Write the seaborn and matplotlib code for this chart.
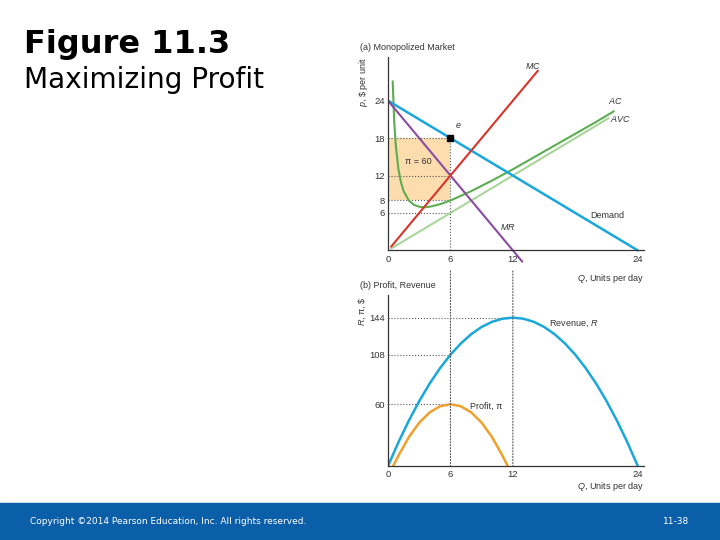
import matplotlib
matplotlib.use("Agg")
import matplotlib.pyplot as plt
from matplotlib.patches import Rectangle, ConnectionPatch
import seaborn as sns

# panel (a): cost and demand curves
demand_q = [0, 24]
demand_p = [24, 0]
mr_q = [0, 12.9]
mr_p = [24, -1.8]
mc_q = [0.3, 14.4]
mc_p = [0.6, 28.8]
avc_q = [0.3, 21.2]
avc_p = [0.3, 21.2]
ac_q = [0.45, 0.6, 0.75, 1, 1.25, 1.5, 2, 2.5, 3, 3.5, 4, 5, 6, 8, 10, 12,
        14, 16, 18, 20, 21.7]
ac_p = [27.1, 20.6, 16.8, 13.0, 10.9, 9.5, 8.0, 7.3, 7.0, 6.9, 7.0, 7.4, 8.0,
        9.5, 11.2, 13.0, 14.9, 16.8, 18.7, 20.6, 22.3]

# panel (b): revenue and profit
rev_q = list(range(0, 25))
rev_v = [0, 23, 44, 63, 80, 95, 108, 119, 128, 135, 140, 143, 144, 143, 140,
         135, 128, 119, 108, 95, 80, 63, 44, 23, 0]
profit_q = [0.5, 1, 2, 3, 4, 5, 6, 7, 8, 9, 10, 11, 11.5]
profit_v = [0, 10, 28, 42, 52, 58, 60, 58, 52, 42, 28, 10, 0]

top_xticks = [0, 6, 12, 24]
top_yticks = [6, 8, 12, 18, 24]
bot_yticks = [60, 108, 144]

sns.set_style("white")
plt.rcParams["font.family"] = ["Liberation Sans", "DejaVu Sans"]
plt.rcParams["mathtext.fontset"] = "custom"
plt.rcParams["mathtext.it"] = "Liberation Sans:italic"
plt.rcParams["mathtext.rm"] = "Liberation Sans"

blue = "#1aa7dc"
dot = dict(color="#555555", ls=":", lw=0.8)

fig = plt.figure(figsize=(7.2, 5.4), dpi=100)
ax1 = fig.add_axes([388 / 720, 1 - 266 / 540, 256 / 720, 209 / 540])
ax2 = fig.add_axes([388 / 720, 1 - 466 / 540, 256 / 720, 171 / 540])

# ---- panel (a)
ax1.add_patch(Rectangle((0, 8), 6, 10, color="#fddcae", lw=0, zorder=0))
for yv in [18, 12, 8, 6]:
    ax1.plot([0, 6], [yv, yv], **dot)
ax1.plot([6, 6], [0, 18], **dot)

sns.lineplot(x=avc_q, y=avc_p, ax=ax1, color="#a9d59b", lw=1.5)
sns.lineplot(x=ac_q, y=ac_p, ax=ax1, color="#5cad52", lw=1.5)
sns.lineplot(x=demand_q, y=demand_p, ax=ax1, color=blue, lw=1.8)
sns.lineplot(x=mr_q, y=mr_p, ax=ax1, color="#8a4ba0", lw=1.5)
sns.lineplot(x=mc_q, y=mc_p, ax=ax1, color="#d8352a", lw=1.5)
ax1.plot([6], [18], marker="s", color="black", ms=4, zorder=5)

lab = dict(fontsize=6.5, color="#333333")
ax1.text(6.4, 19.6, "$e$", **lab)
ax1.text(13.9, 29.6, "$MC$", ha="center", va="center", **lab)
ax1.text(21.9, 24.0, "$AC$", ha="center", va="center", **lab)
ax1.text(22.3, 21.1, "$AVC$", ha="center", va="center", **lab)
ax1.text(21.1, 5.6, "Demand", ha="center", va="center", **lab)
ax1.text(11.5, 3.7, "$MR$", ha="center", va="center", **lab)
ax1.text(2.9, 14.2, "π = 60", ha="center", va="center", **lab)

ax1.set_xlim(0, 24.6)
ax1.set_ylim(-2.5, 31)
ax1.spines["bottom"].set_position(("data", 0))
ax1.spines["left"].set_bounds(0, 31)

# ---- panel (b)
ax2.plot([0, 12], [144, 144], **dot)
ax2.plot([0, 6], [108, 108], **dot)
ax2.plot([0, 6], [60, 60], **dot)
sns.lineplot(x=rev_q, y=rev_v, ax=ax2, color=blue, lw=1.8)
sns.lineplot(x=profit_q, y=profit_v, ax=ax2, color="#f0a02c", lw=1.8)
ax2.text(17.8, 138, "Revenue, $R$", ha="center", va="center", **lab)
ax2.text(9.4, 58, "Profit, π", ha="center", va="center", **lab)
ax2.set_xlim(0, 24.6)
ax2.set_ylim(0, 166)

for ax, yt in [(ax1, top_yticks), (ax2, bot_yticks)]:
    ax.set_xticks(top_xticks)
    ax.set_yticks(yt)
    ax.tick_params(length=0, labelsize=6.8, labelcolor="#333333", pad=3)
    ax.tick_params(axis="y", pad=2)
    for s in ["top", "right"]:
        ax.spines[s].set_visible(False)
    for s in ["left", "bottom"]:
        ax.spines[s].set_color("#333333")
        ax.spines[s].set_linewidth(0.9)
    ax.set_xlabel("")
    ax.set_ylabel("")

for qx in [6, 12]:
    con = ConnectionPatch(xyA=(qx, -3.3), coordsA=ax1.transData,
                          xyB=(qx, 0), coordsB=ax2.transData, **dot)
    fig.add_artist(con)

ax1.text(24.6, -3.4, "$Q$, Units per day", ha="right", va="top",
         clip_on=False, **lab)
ax2.text(24.6, -14, "$Q$, Units per day", ha="right", va="top",
         clip_on=False, **lab)

fig.text(360 / 720, 1 - 47 / 540, "(a) Monopolized Market", ha="left",
         va="center", **lab)
fig.text(360 / 720, 1 - 285 / 540, "(b) Profit, Revenue", ha="left",
         va="center", **lab)
fig.text(363 / 720, 1 - 57 / 540, "$p$, \\$ per unit", rotation=90,
         ha="center", va="top", **lab)
fig.text(362 / 720, 1 - 296 / 540, "$R$, π, \\$", rotation=90,
         ha="center", va="top", **lab)

# slide title and footer
fig.text(24 / 720, 1 - 45 / 540, "Figure 11.3", fontsize=23,
         fontweight="bold", family="DejaVu Sans", color="black",
         va="center")
fig.text(24 / 720, 1 - 80 / 540, "Maximizing Profit", fontsize=20.2,
         family="DejaVu Sans", color="black", va="center")
fig.patches.append(Rectangle((0, 0), 1, 37 / 540, transform=fig.transFigure,
                             color="#0b5ea8", zorder=0))
fig.text(30 / 720, 1 - 521 / 540,
         "Copyright ©2014 Pearson Education, Inc. All rights reserved.",
         fontsize=6.5, color="white", family="DejaVu Sans", va="center")
fig.text(663 / 720, 1 - 521 / 540, "11-38", fontsize=6.5, color="white",
         family="DejaVu Sans", va="center")

fig.savefig("out.png", dpi=100)
